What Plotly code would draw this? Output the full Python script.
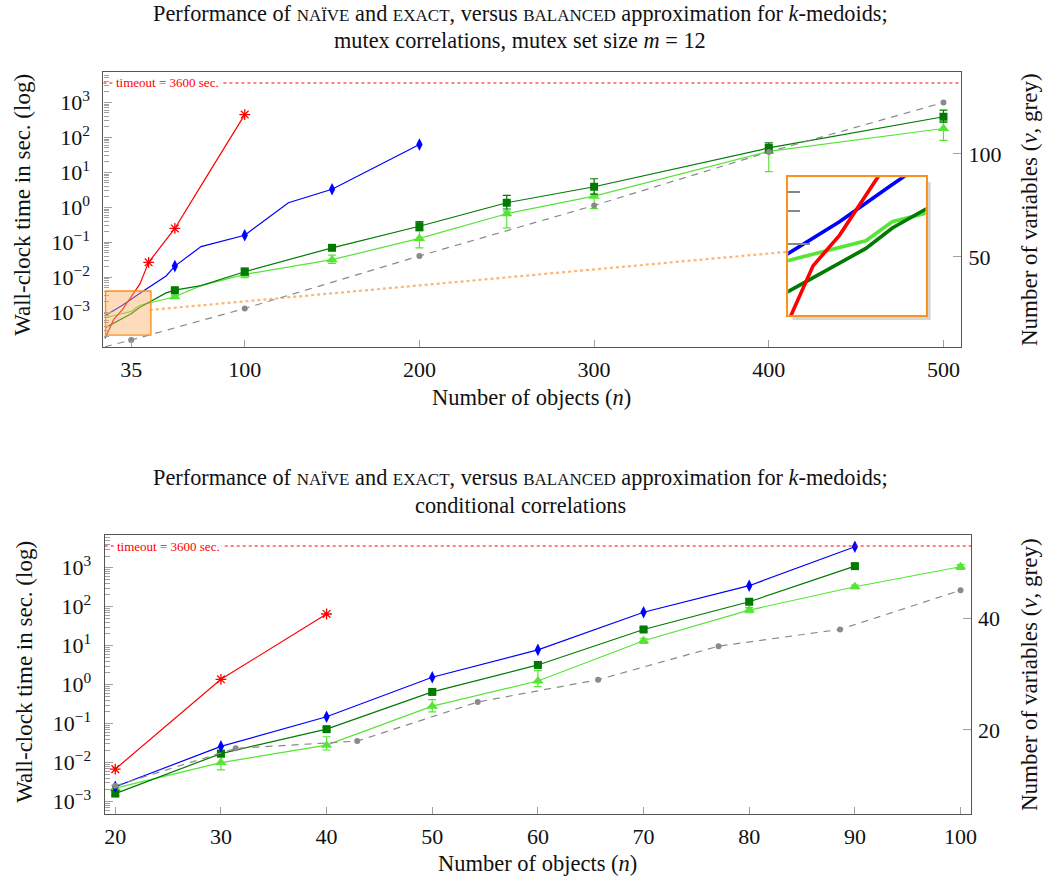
import math
import plotly.graph_objects as go

W, H = 1047, 879
FONT = "Liberation Serif"

# ---------------- data: top chart (mutex correlations, m = 12) ----------------
top_naive_n = [20, 25, 30, 40, 45, 60, 75, 100]
top_naive_t = [1.8e-4, 6.3e-4, 1.2e-3, 6.5e-3, 0.027, 0.25, 4.2, 450]
top_naive_marked = [45, 60, 100]

top_exact_n = [20, 30, 40, 55, 60, 75, 100, 125, 150, 200]
top_exact_t = [8e-4, 1.6e-3, 3.5e-3, 0.011, 0.021, 0.076, 0.16, 1.36, 3.3, 63]
top_exact_marked = [60, 100, 150, 200]

top_bal_n = [20, 35, 40, 55, 60, 75, 100, 150, 200, 250, 300, 400, 500]
top_bal_t = [3.6e-4, 9.1e-4, 1.4e-3, 3.6e-3, 4.3e-3, 5.8e-3, 0.0145, 0.07, 0.29, 1.36, 3.9, 50, 390]
top_bal_marked = [60, 100, 150, 200, 250, 300, 400, 500]
top_bal_hi = [4.6e-3, 0.017, 0.078, 0.39, 2.2, 6.6, 70, 600]
top_bal_lo = [4.0e-3, 0.012, 0.062, 0.22, 0.9, 2.4, 36, 273]

top_bal2_n = [20, 35, 40, 60, 75, 100, 150, 200, 250, 300, 400, 500]
top_bal2_t = [7e-4, 1.07e-3, 1.6e-3, 2.8e-3, 5.8e-3, 0.0122, 0.032, 0.13, 0.66, 2.1, 40, 180]
top_bal2_marked = [60, 100, 150, 200, 250, 300, 400, 500]
top_bal2_hi = [3.1e-3, 0.019, 0.043, 0.21, 0.78, 2.35, 59, 280]
top_bal2_lo = [2.5e-3, 0.0099, 0.025, 0.07, 0.26, 0.92, 10.5, 82]

top_vars_n = [20, 35, 100, 200, 300, 400, 500]
top_vars_v = [6.4, 9.7, 25, 50.5, 75, 101, 125]
top_vars_marked = [35, 100, 200, 300, 400, 500]

# ---------------- data: bottom chart (conditional correlations) ----------------
bot_naive_n = [20, 30, 40]
bot_naive_t = [6.8e-3, 1.37, 65]

bot_exact_n = [20, 30, 40, 50, 60, 70, 80, 90]
bot_exact_t = [2.4e-3, 0.026, 0.15, 1.55, 7.8, 72, 346, 3450]

bot_bal_n = [20, 30, 40, 50, 60, 70, 80, 90]
bot_bal_t = [1.6e-3, 0.017, 0.072, 0.65, 3.2, 26, 134, 1100]
bot_bal_hi = [1.9e-3, 0.02, 0.08, 0.72, 3.6, 29, 150, 1250]
bot_bal_lo = [1.4e-3, 0.015, 0.065, 0.58, 2.9, 23, 120, 980]

bot_bal2_n = [20, 30, 40, 50, 60, 70, 80, 90, 100]
bot_bal2_t = [2.2e-3, 0.01, 0.028, 0.28, 1.24, 13.4, 82, 325, 1060]
bot_bal2_hi = [2.6e-3, 0.014, 0.046, 0.41, 2.3, 15.5, 95, 360, 1200]
bot_bal2_lo = [1.9e-3, 6.5e-3, 0.021, 0.2, 0.89, 11.5, 70, 290, 900]

bot_vars_n = [20, 31.4, 42.9, 54.3, 65.7, 77.1, 88.6, 100]
bot_vars_v = [10, 16.7, 18, 25, 29, 35, 38, 45]

TIMEOUT = 3600
top_xticks = [35, 100, 200, 300, 400, 500]
bot_xticks = [20, 30, 40, 50, 60, 70, 80, 90, 100]
log_ticks = [1e-3, 1e-2, 1e-1, 1, 10, 100, 1000]
log_ticktext = ["10<sup>\u22123</sup>", "10<sup>\u22122</sup>", "10<sup>\u22121</sup>",
                "10<sup>0</sup>", "10<sup>1</sup>", "10<sup>2</sup>", "10<sup>3</sup>"]
top_rticks = [50, 100]
bot_rticks = [20, 40]
zoom_x = [20.3, 46.3]
zoom_t = [10 ** -3.65, 10 ** -2.39]

# ---------------- styles ----------------
RED = "#ff0000"
BLUE = "#0000ff"
DGREEN = "#007a00"
LGREEN = "#55e535"
GREY = "#8a8a8a"
ORANGE = "#f7931e"
FRAME = "#555555"
TICKC = "#a0a0a0"


def px(x):
    return x / W


def py(y):
    return 1 - y / H


fig = go.Figure()


def subset(ns, vals, marked):
    xs, ys = [], []
    for n, v in zip(ns, vals):
        if n in marked:
            xs.append(n)
            ys.append(v)
    return xs, ys


def add_series(xa, ya, ns, vals, color, marked=None, symbol=None, msize=8,
               hi=None, lo=None, dash="solid", width=1.2, open_marker=False):
    fig.add_trace(go.Scatter(x=ns, y=vals, mode="lines", xaxis=xa, yaxis=ya,
                             line=dict(color=color, width=width, dash=dash),
                             showlegend=False, hoverinfo="skip"))
    if marked is None:
        return
    mx, my = subset(ns, vals, marked)
    err = None
    if hi is not None:
        err = dict(type="data", symmetric=False,
                   array=[h - v for h, v in zip(hi, my)],
                   arrayminus=[v - l for l, v in zip(lo, my)],
                   color=color, thickness=1.2, width=4)
    if open_marker:
        mk = dict(symbol=symbol, size=msize, color=color,
                  line=dict(color=color, width=1.3))
    else:
        mk = dict(symbol=symbol, size=msize, color=color, line=dict(width=0))
    fig.add_trace(go.Scatter(x=mx, y=my, mode="markers", xaxis=xa, yaxis=ya,
                             marker=mk, error_y=err, showlegend=False,
                             cliponaxis=False))


# ---- top chart ----
add_series("x", "y2", top_vars_n, top_vars_v, GREY, top_vars_n[1:], "circle", 6, dash="7px,6px")
add_series("x", "y", top_bal2_n, top_bal2_t, LGREEN, top_bal2_marked, "triangle-up", 10,
           top_bal2_hi, top_bal2_lo)
add_series("x", "y", top_bal_n, top_bal_t, DGREEN, top_bal_marked, "square", 8,
           top_bal_hi, top_bal_lo)
add_series("x", "y", top_exact_n, top_exact_t, BLUE, top_exact_marked, "diamond-tall", 9)
add_series("x", "y", top_naive_n, top_naive_t, RED, top_naive_marked, "asterisk-open", 9,
           open_marker=True)

# ---- inset (zoom of the orange box) ----
for ns, vals, col in [(top_bal2_n, top_bal2_t, LGREEN), (top_bal_n, top_bal_t, DGREEN),
                      (top_exact_n, top_exact_t, BLUE), (top_naive_n, top_naive_t, RED)]:
    fig.add_trace(go.Scatter(x=ns, y=vals, mode="lines", xaxis="x3", yaxis="y5",
                             line=dict(color=col, width=3.6), showlegend=False,
                             hoverinfo="skip"))

# ---- bottom chart ----
add_series("x2", "y4", bot_vars_n, bot_vars_v, GREY, bot_vars_n, "circle", 6, dash="7px,6px")
add_series("x2", "y3", bot_bal2_n, bot_bal2_t, LGREEN, bot_bal2_n, "triangle-up", 10,
           bot_bal2_hi, bot_bal2_lo)
add_series("x2", "y3", bot_bal_n, bot_bal_t, DGREEN, bot_bal_n, "square", 8,
           bot_bal_hi, bot_bal_lo)
add_series("x2", "y3", bot_exact_n, bot_exact_t, BLUE, bot_exact_n, "diamond-tall", 9)
add_series("x2", "y3", bot_naive_n, bot_naive_t, RED, bot_naive_n, "asterisk-open", 9,
           open_marker=True)

# ---------------- axes ----------------
minor_vals = [k * 10.0 ** e for e in range(-5, 4) for k in range(2, 10)]
tickfont = dict(family=FONT, size=22, color="#111")


def xaxis(domain, rng, ticks, anchor):
    return dict(domain=domain, range=rng, anchor=anchor, tickvals=ticks,
                ticks="inside", ticklen=7, tickcolor=TICKC, tickwidth=1.2,
                showline=True, mirror=True, linecolor=FRAME, linewidth=1.3,
                showgrid=False, zeroline=False, tickfont=tickfont, ticklabelstandoff=2)


def ylog(domain, rng, anchor):
    return dict(domain=domain, type="log", range=rng, anchor=anchor,
                tickvals=log_ticks, ticktext=log_ticktext,
                ticks="inside", ticklen=8, tickcolor=TICKC, tickwidth=1.2,
                minor=dict(tickvals=minor_vals, ticks="inside", ticklen=5,
                           tickcolor=TICKC, tickwidth=1),
                showline=True, mirror=True, linecolor=FRAME, linewidth=1.3,
                showgrid=False, zeroline=False, tickfont=tickfont, ticklabelstandoff=8)


def yright(rng, overlay, anchor, ticks):
    return dict(overlaying=overlay, side="right", anchor=anchor, range=rng,
                tickvals=ticks, ticks="inside", ticklen=8, tickcolor=TICKC,
                tickwidth=1.2, showline=False, showgrid=False, zeroline=False,
                tickfont=tickfont, ticklabelstandoff=6)


top_xd = [px(104), px(967)]
top_yd = [py(347), py(72)]
bot_xd = [px(105.3), px(976.7)]
bot_yd = [py(814), py(535)]
ins_xd = [px(792.7), px(931)]
ins_yd = [py(315), py(177.3)]

fig.update_layout(
    xaxis=xaxis(top_xd, [19.1, 510.3], top_xticks, "y"),
    yaxis=ylog(top_yd, [-3.99, 3.87], "x"),
    yaxis2=yright([6.3, 139.8], "y", "x", top_rticks),
    xaxis2=xaxis(bot_xd, [19.0, 101.0], bot_xticks, "y3"),
    yaxis3=ylog(bot_yd, [-3.32, 3.84], "x2"),
    yaxis4=yright([4.95, 54.9], "y3", "x2", bot_rticks),
    xaxis3=dict(domain=ins_xd, range=zoom_x, anchor="y5", showticklabels=False,
                ticks="", showline=True, mirror=True, linecolor=ORANGE, linewidth=1.6,
                showgrid=False, zeroline=False),
    yaxis5=dict(domain=ins_yd, type="log", range=[math.log10(zoom_t[0]), math.log10(zoom_t[1])],
                anchor="x3", tickvals=[1e-3], ticks="inside", ticklen=22, tickcolor="#888",
                tickwidth=1.5, showticklabels=False,
                minor=dict(tickvals=[2e-3, 3e-3, 4e-3], ticks="inside", ticklen=12,
                           tickcolor="#888", tickwidth=1.5),
                showline=True, mirror=True, linecolor=ORANGE, linewidth=1.6,
                showgrid=False, zeroline=False),
    width=W, height=H, margin=dict(l=0, r=0, t=0, b=0),
    paper_bgcolor="white", plot_bgcolor="white",
    font=dict(family=FONT, color="#111"),
    showlegend=False,
)

shapes = []
# timeout lines
for xr, yr in [("x domain", "y"), ("x2 domain", "y3")]:
    shapes.append(dict(type="line", xref=xr, yref=yr, x0=0, x1=1, y0=TIMEOUT, y1=TIMEOUT,
                       line=dict(color=RED, width=1.1, dash="dot"), layer="above"))
# orange zoom box in main chart
shapes.append(dict(type="rect", xref="x", yref="y", x0=zoom_x[0], x1=zoom_x[1],
                   y0=zoom_t[0], y1=zoom_t[1], fillcolor="rgba(250,175,105,0.45)",
                   line=dict(color=ORANGE, width=1.4), layer="above"))
# connector dotted line
shapes.append(dict(type="line", xref="paper", yref="paper", x0=px(150.7), y0=py(310),
                   x1=px(792.7), y1=py(251.7),
                   line=dict(color="#fbb676", width=2.2, dash="dot"), layer="below"))
# inset shadow + background
shapes.append(dict(type="rect", xref="paper", yref="paper", x0=px(797), x1=px(936),
                   y0=py(320), y1=py(182), fillcolor="#d6d6d6", line=dict(width=0),
                   layer="below"))
shapes.append(dict(type="rect", xref="x3 domain", yref="y5 domain", x0=0, x1=1, y0=0, y1=1,
                   fillcolor="#fde6c9", line=dict(width=0), layer="below"))
fig.update_layout(shapes=shapes)

ann = []
for xr, yr in [("x domain", "y"), ("x2 domain", "y3")]:
    ann.append(dict(xref=xr, yref=yr, x=0.012, y=math.log10(TIMEOUT), text="timeout = 3600 sec.",
                    showarrow=False, xanchor="left", yanchor="middle", bgcolor="white",
                    borderpad=1, font=dict(family=FONT, size=13, color=RED)))


def sc(s):
    return "<span style='font-size:17px'>" + s + "</span>"


t1 = ("Performance of " + sc("NAÏVE") + " and " + sc("EXACT") + ", versus " + sc("BALANCED")
      + " approximation for <i>k</i>-medoids;")
titles = [
    (t1, 523, 13), ("mutex correlations, mutex set size <i>m</i> = 12", 523, 41),
    (t1, 523, 477), ("conditional correlations", 523, 505),
]
for txt, x, y in titles:
    ann.append(dict(xref="paper", yref="paper", x=px(x), y=py(y), text=txt, showarrow=False,
                    xanchor="center", yanchor="middle", font=dict(family=FONT, size=22.3, color="#111")))

axis_titles = [
    ("Wall-clock time in sec. (log)", 22, 205, -90, 23),
    ("Number of variables (<i>v</i>, grey)", 1035, 210, -90, 23),
    ("Number of objects (<i>n</i>)", 535, 398, 0, 22.5),
    ("Wall-clock time in sec. (log)", 24, 672, -90, 23),
    ("Number of variables (<i>v</i>, grey)", 1035, 675, -90, 23),
    ("Number of objects (<i>n</i>)", 541, 863, 0, 22.5),
]
for txt, x, y, ang, fs in axis_titles:
    ann.append(dict(xref="paper", yref="paper", x=px(x), y=py(y), text=txt, showarrow=False,
                    xanchor="center", yanchor="middle", textangle=ang,
                    font=dict(family=FONT, size=fs, color="#111")))
fig.update_layout(annotations=ann)

fig.write_html("out.html")
